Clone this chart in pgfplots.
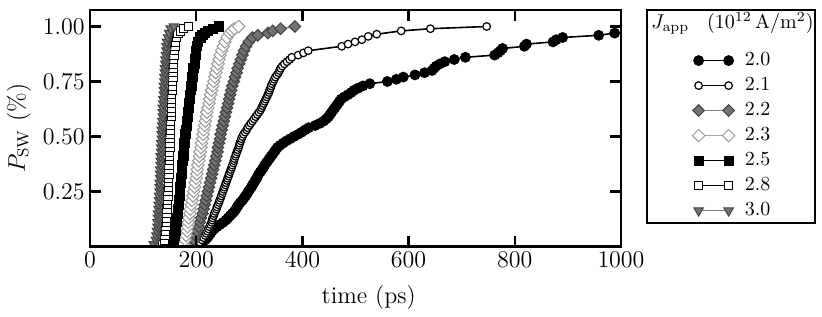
\documentclass[border=0pt]{standalone}
\usepackage{pgfplots}
\pgfplotsset{compat=1.18}
\begin{document}
\begin{tikzpicture}
\begin{axis}[
  name=ax,
  scale only axis,
  width=265.5pt, height=118.25pt,
  xmin=0, xmax=1000, ymin=0, ymax=1.075,
  xtick={0,200,400,600,800,1000},
  ytick={0.25,0.5,0.75,1.0},
  yticklabel style={/pgf/number format/fixed, /pgf/number format/fixed zerofill, /pgf/number format/precision=2, inner sep=2.5pt},
  xticklabel style={/pgf/number format/1000 sep={}, inner sep=2.5pt},
  tick align=inside,
  major tick length=5.5pt,
  major tick style={line width=1.2pt, black},
  axis line style={line width=1.2pt},
  tick label style={font=\fontsize{12}{14}\selectfont},
  xlabel={time (ps)},
  ylabel={$P_{\mathrm{SW}}$ (\%)},
  every axis x label/.style={at={(axis description cs:0.525,-0.216)}, anchor=center, font=\fontsize{12}{14}\selectfont},
  every axis y label/.style={at={(axis description cs:-0.134,0.5)}, rotate=90, anchor=center, font=\fontsize{12}{14}\selectfont},
  clip marker paths=true,
  axis on top,
  legend style={at={(axis description cs:1,1)}, anchor=north west, xshift=35.5pt, yshift=-21pt, draw=none, fill=none, inner sep=0pt, row sep=4.35pt, column sep=5pt, font=\fontsize{10}{12}\selectfont, nodes={inner sep=0pt}},
  legend cell align=left,
  legend image code/.code={\draw[mark repeat=2,mark phase=1] plot coordinates {(0pt,0pt) (7.5pt,0pt) (15pt,0pt)};},
]
% J = 2.0
\addplot[black, line width=0.8pt, mark=*, mark size=2.5pt, mark options={solid, fill=black, draw=black, line width=0.4pt}] coordinates {
(207,0.01) (212,0.02) (217,0.03) (221,0.04) (224,0.05) (227,0.06) (230,0.07) (234,0.08) (239,0.09) (245,0.10)
(251,0.11) (256,0.12) (260,0.13) (264,0.14) (268,0.15) (272,0.16) (275,0.17) (277,0.18) (280,0.19) (283,0.20)
(287,0.21) (290,0.22) (293,0.23) (296,0.24) (298,0.25) (301,0.26) (304,0.27) (306,0.28) (309,0.29) (311,0.30)
(314,0.31) (316,0.32) (318,0.33) (321,0.34) (324,0.35) (327,0.36) (329,0.37) (332,0.38) (335,0.39) (338,0.40)
(341,0.41) (344,0.42) (347,0.43) (350,0.44) (353,0.45) (358,0.46) (364,0.47) (370,0.48) (377,0.49) (384,0.50)
(392,0.51) (399,0.52) (405,0.53) (412,0.54) (424,0.55) (433,0.56) (440,0.57) (445,0.58) (449,0.59) (452,0.60)
(455,0.61) (458,0.62) (461,0.63) (464,0.64) (467,0.65) (470,0.66) (473,0.67) (479,0.68) (486,0.69) (492,0.70)
(497,0.71) (505,0.72) (514,0.73) (527,0.74) (560,0.75) (577,0.76) (590,0.77) (612,0.78) (630,0.79) (644,0.80)
(648,0.81) (652,0.82) (659,0.83) (668,0.84) (686,0.85) (707,0.86) (762,0.87) (768,0.88) (773,0.89) (777,0.90)
(818,0.91) (822,0.92) (872,0.93) (878,0.94) (890,0.95) (958,0.96) (988,0.97) (1030,0.98) (1080,0.99) (1150,1.00)
};
\addlegendentry{2.0}
% J = 2.1
\addplot[black, line width=0.8pt, mark=*, mark size=1.9pt, mark options={solid, fill=white, draw=black, line width=0.6pt}] coordinates {
(203,0.01) (207,0.02) (211,0.03) (214,0.04) (217,0.05) (219,0.06) (221,0.07) (223,0.08) (225,0.09) (227,0.10)
(229,0.11) (230,0.12) (231,0.13) (233,0.14) (234,0.15) (236,0.16) (238,0.17) (239,0.18) (241,0.19) (243,0.20)
(244,0.21) (246,0.22) (247,0.23) (249,0.24) (250,0.25) (252,0.26) (253,0.27) (255,0.28) (256,0.29) (258,0.30)
(259,0.31) (261,0.32) (262,0.33) (264,0.34) (265,0.35) (267,0.36) (268,0.37) (270,0.38) (271,0.39) (272,0.40)
(274,0.41) (275,0.42) (277,0.43) (278,0.44) (280,0.45) (281,0.46) (282,0.47) (284,0.48) (285,0.49) (287,0.50)
(289,0.51) (292,0.52) (295,0.53) (297,0.54) (300,0.55) (303,0.56) (306,0.57) (309,0.58) (312,0.59) (315,0.60)
(318,0.61) (321,0.62) (323,0.63) (325,0.64) (327,0.65) (329,0.66) (331,0.67) (333,0.68) (335,0.69) (337,0.70)
(338,0.71) (340,0.72) (341,0.73) (343,0.74) (345,0.75) (347,0.76) (349,0.77) (352,0.78) (355,0.79) (357,0.80)
(359,0.81) (362,0.82) (366,0.83) (371,0.84) (376,0.85) (380,0.86) (392,0.87) (402,0.88) (411,0.89) (474,0.91)
(486,0.92) (499,0.93) (512,0.94) (524,0.955) (540,0.965) (586,0.98) (641,0.99) (747,1.00)
};
\addlegendentry{2.1}
% J = 2.2
\addplot[black!50, line width=0.8pt, mark=square*, mark size=2.05pt, mark options={solid, rotate=45, fill=black!55, draw=black!75, line width=0.5pt}] coordinates {
(191,0.01) (196,0.03) (199,0.05) (202,0.07) (205,0.09) (207,0.11) (209,0.13) (212,0.15) (214,0.17) (216,0.19)
(218,0.21) (220,0.23) (222,0.25) (224,0.27) (226,0.29) (228,0.31) (230,0.33) (232,0.35) (234,0.37) (236,0.39)
(238,0.41) (240,0.43) (241,0.45) (243,0.47) (245,0.49) (246,0.51) (248,0.53) (250,0.55) (252,0.57) (254,0.59)
(256,0.61) (258,0.63) (260,0.65) (262,0.67) (264,0.69) (266,0.71) (268,0.73) (271,0.75) (273,0.77) (276,0.79)
(278,0.81) (281,0.83) (284,0.85) (287,0.87) (290,0.89) (294,0.91) (299,0.93) (306,0.95) (316,0.96) (335,0.97)
(344,0.98) (359,0.99) (386,1.00)
};
\addlegendentry{2.2}
% J = 2.3
\addplot[black!35, line width=0.8pt, mark=square*, mark size=2.2pt, mark options={solid, rotate=45, fill=white, draw=black!40, line width=0.5pt}] coordinates {
(176,0.01) (179,0.03) (181,0.05) (183,0.07) (184,0.09) (185,0.11) (186,0.13) (188,0.15) (189,0.17) (191,0.19)
(192,0.21) (194,0.23) (195,0.25) (197,0.27) (198,0.29) (200,0.31) (201,0.33) (202,0.35) (203,0.37) (205,0.39)
(206,0.41) (207,0.43) (209,0.45) (210,0.47) (212,0.49) (213,0.51) (214,0.53) (216,0.55) (217,0.57) (219,0.59)
(220,0.61) (222,0.63) (224,0.65) (225,0.67) (227,0.69) (229,0.71) (231,0.73) (233,0.75) (235,0.77) (237,0.79)
(239,0.81) (241,0.83) (243,0.85) (245,0.87) (248,0.89) (251,0.91) (254,0.93) (258,0.95) (263,0.97) (267,0.98)
(272,0.99) (280,1.00)
};
\addlegendentry{2.3}
% J = 2.5
\addplot[black, line width=0.8pt, mark=square*, mark size=2.3pt, mark options={solid, fill=black, draw=black, line width=0.5pt}] coordinates {
(155,0.01) (158,0.03) (160,0.05) (161,0.07) (162,0.09) (163,0.11) (164,0.13) (165,0.15) (166,0.17) (167,0.19)
(168,0.21) (169,0.23) (169,0.25) (170,0.27) (171,0.29) (172,0.31) (173,0.33) (173,0.35) (174,0.37) (175,0.39)
(176,0.41) (177,0.43) (177,0.45) (178,0.47) (179,0.49) (180,0.51) (181,0.53) (182,0.55) (183,0.57) (184,0.59)
(185,0.61) (186,0.63) (187,0.65) (188,0.67) (189,0.69) (190,0.71) (191,0.73) (192,0.75) (193,0.77) (194,0.79)
(195,0.81) (197,0.83) (198,0.85) (199,0.87) (200,0.89) (202,0.91) (204,0.93) (208,0.95) (212,0.96) (216,0.97)
(222,0.98) (232,0.99) (243,1.00)
};
\addlegendentry{2.5}
% J = 2.8
\addplot[black, line width=0.8pt, mark=square*, mark size=2.1pt, mark options={solid, fill=white, draw=black, line width=0.5pt}] coordinates {
(137,0.01) (140,0.03) (141,0.05) (142,0.07) (143,0.09) (144,0.11) (144,0.13) (145,0.15) (145,0.17) (146,0.19)
(146,0.21) (147,0.23) (147,0.25) (148,0.27) (148,0.29) (148,0.31) (149,0.33) (149,0.35) (149,0.37) (150,0.39)
(150,0.41) (150,0.43) (151,0.45) (151,0.47) (151,0.49) (151,0.51) (152,0.53) (152,0.55) (152,0.57) (153,0.59)
(153,0.61) (153,0.63) (154,0.65) (154,0.67) (154,0.69) (155,0.71) (155,0.73) (155,0.75) (156,0.77) (156,0.79)
(156,0.81) (157,0.83) (157,0.85) (158,0.87) (159,0.89) (160,0.91) (161,0.93) (163,0.95) (166,0.97) (170,0.98)
(176,0.99) (185,1.00)
};
\addlegendentry{2.8}
% J = 3.0
\addplot[black!50, line width=0.8pt, mark=triangle*, mark size=2.7pt, mark options={solid, rotate=180, fill=black!55, draw=black!75, line width=0.5pt}] coordinates {
(120,0.01) (124,0.03) (125,0.05) (126,0.07) (127,0.09) (127,0.11) (128,0.13) (128,0.15) (129,0.17) (129,0.19)
(130,0.21) (130,0.23) (131,0.25) (131,0.27) (131,0.29) (132,0.31) (132,0.33) (132,0.35) (133,0.37) (133,0.39)
(133,0.41) (134,0.43) (134,0.45) (134,0.47) (135,0.49) (135,0.51) (135,0.53) (136,0.55) (136,0.57) (137,0.59)
(137,0.61) (137,0.63) (138,0.65) (138,0.67) (139,0.69) (139,0.71) (139,0.73) (140,0.75) (140,0.77) (141,0.79)
(141,0.81) (142,0.83) (142,0.85) (143,0.87) (144,0.89) (144,0.91) (145,0.93) (147,0.95) (149,0.97) (152,0.99)
(158,1.00)
};
\addlegendentry{3.0}
\end{axis}
\draw[line width=0.8pt] ([xshift=13pt]ax.north east) rectangle ([xshift=97pt,yshift=-106.5pt]ax.north east);
\node[font=\fontsize{9.6}{11.5}\selectfont, anchor=center, inner sep=0pt] at ([xshift=55.75pt,yshift=-6.7pt]ax.north east) {$J_{\mathrm{app}}$\hspace{9pt}$(10^{12}\,\mathrm{A/m^2})$};
\path ([xshift=-45pt,yshift=5pt]ax.north west) rectangle ([xshift=100.5pt,yshift=-31.75pt]ax.south east);
\end{tikzpicture}
\end{document}
